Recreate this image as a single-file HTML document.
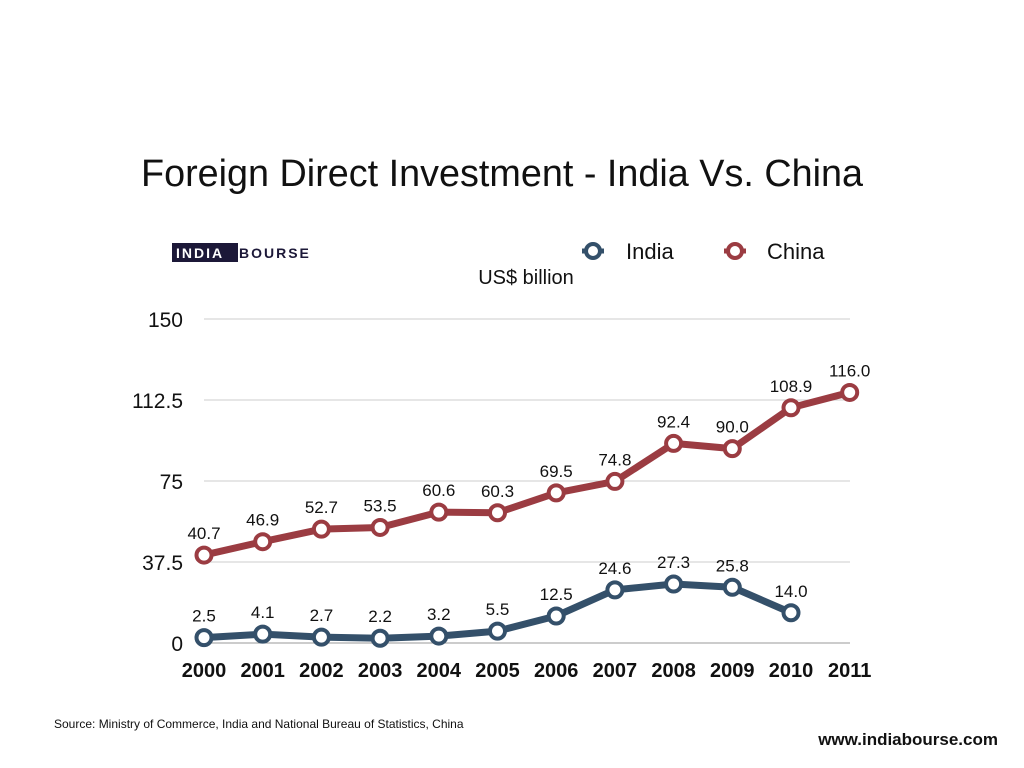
<!DOCTYPE html>
<html><head><meta charset="utf-8"><style>
html,body{margin:0;padding:0;background:#fff;width:1024px;height:768px;overflow:hidden;font-family:"Liberation Sans",sans-serif}
</style></head><body>
<svg width="1024" height="768" id="chart">
<text x="502" y="186" text-anchor="middle" font-size="38" fill="#111" textLength="722" lengthAdjust="spacingAndGlyphs">Foreign Direct Investment - India Vs. China</text>
<g>
<rect x="172" y="243" width="66" height="19" fill="#1c1838"/>
<text x="176" y="258" font-size="14" font-weight="bold" fill="#fff" letter-spacing="2">INDIA</text>
<text x="239" y="258" font-size="14" font-weight="bold" fill="#1c1838" letter-spacing="2">BOURSE</text>
</g>
<text x="526" y="284" text-anchor="middle" font-size="20" fill="#111">US$ billion</text>
<g>
<line x1="582" y1="251" x2="604" y2="251" stroke="#34506a" stroke-width="5"/>
<circle cx="593" cy="251" r="7" fill="#fff" stroke="#34506a" stroke-width="4"/>
<text x="626" y="259" font-size="22" fill="#111">India</text></g>
<g>
<line x1="724" y1="251" x2="746" y2="251" stroke="#9b3c42" stroke-width="5"/>
<circle cx="735" cy="251" r="7" fill="#fff" stroke="#9b3c42" stroke-width="4"/>
<text x="767" y="259" font-size="22" fill="#111">China</text></g>
<g id="grid"></g><g id="series"></g>
<text x="54" y="728" font-size="12" fill="#111">Source: Ministry of Commerce, India and National Bureau of Statistics, China</text>
<text x="998" y="745" text-anchor="end" font-size="17" font-weight="bold" fill="#111">www.indiabourse.com</text>
</svg>
<script>
const years=["2000","2001","2002","2003","2004","2005","2006","2007","2008","2009","2010","2011"];
const india=[2.5,4.1,2.7,2.2,3.2,5.5,12.5,24.6,27.3,25.8,14.0];
const china=[40.7,46.9,52.7,53.5,60.6,60.3,69.5,74.8,92.4,90.0,108.9,116.0];
const yTicks=[0,37.5,75,112.5,150];
const NS="http://www.w3.org/2000/svg";
const xs=i=>204+i*58.7;
const ys=v=>643-v*(324/150);
function mk(t,a,p){const e=document.createElementNS(NS,t);for(const k in a)e.setAttribute(k,a[k]);p.appendChild(e);return e;}
const grid=document.getElementById('grid'),ser=document.getElementById('series');
yTicks.forEach(t=>{
 const l=mk('line',{x1:204,x2:850,y1:ys(t),y2:ys(t),stroke:t===0?'#999':'#ccc','stroke-width':1},grid);
 
 
 const tx=mk('text',{x:183,y:ys(t)+8,'text-anchor':'end','font-size':21,fill:'#111'},grid);
 tx.textContent=String(t);
 
 
});
years.forEach((y,i)=>{
 const tx=mk('text',{x:xs(i),y:677,'text-anchor':'middle','font-size':20,'font-weight':'bold',fill:'#111'},grid);
 tx.textContent=y;
 
 
});
function draw(data,color,name){
 const p=mk('polyline',{points:data.map((v,i)=>xs(i)+','+ys(v)).join(' '),fill:'none',stroke:color,'stroke-width':7,'stroke-linejoin':'round'},ser);
 
 
 data.forEach((v,i)=>{
  const c=mk('circle',{cx:xs(i),cy:ys(v),r:7.5,fill:'#fff',stroke:color,'stroke-width':4},ser);
  
  
  const t=mk('text',{x:xs(i),y:ys(v)-16,'text-anchor':'middle','font-size':17,fill:'#111'},ser);
  t.textContent=v.toFixed(1);
  
  
 });
}
draw(india,'#34506a','india');
draw(china,'#9b3c42','china');
</script>
</body></html>
